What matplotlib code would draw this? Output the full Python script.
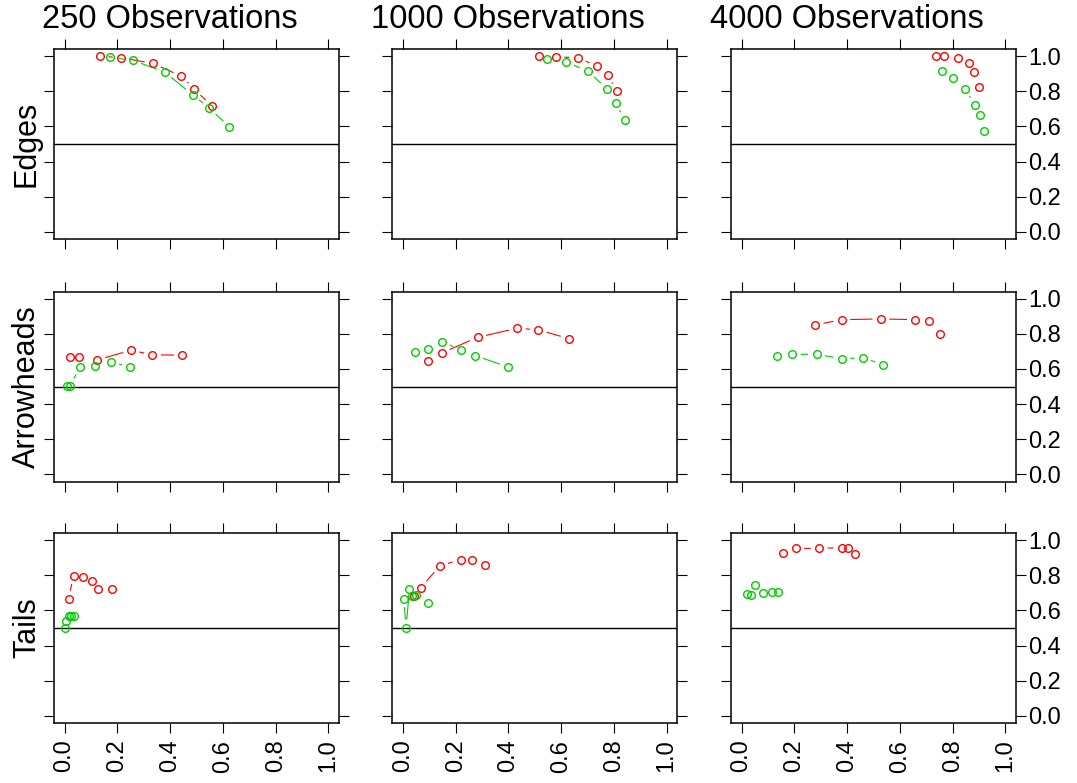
import matplotlib
matplotlib.use('Agg')

import numpy as np
from matplotlib import pyplot as plt

plt.rcParams['font.family'] = ['Liberation Sans', 'DejaVu Sans']

obs_labels = ['250 Observations', '1000 Observations', '4000 Observations']
row_labels = ['Edges', 'Arrowheads', 'Tails']
ticks = [0.0, 0.2, 0.4, 0.6, 0.8, 1.0]
tick_labels = ['0.0', '0.2', '0.4', '0.6', '0.8', '1.0']
ref_level = 0.5

# red series, one list per sample size (250, 1000, 4000)
edges_red_x = [[0.135, 0.214, 0.335, 0.442, 0.492, 0.558],
               [0.517, 0.580, 0.663, 0.736, 0.777, 0.811],
               [0.735, 0.769, 0.821, 0.862, 0.880, 0.899]]
edges_red_y = [[1.000, 0.990, 0.958, 0.886, 0.811, 0.716],
               [1.000, 0.996, 0.990, 0.943, 0.892, 0.801],
               [0.998, 0.998, 0.990, 0.958, 0.911, 0.826]]
edges_green_x = [[0.173, 0.260, 0.380, 0.485, 0.549, 0.625],
                 [0.548, 0.618, 0.700, 0.774, 0.806, 0.840],
                 [0.761, 0.802, 0.847, 0.884, 0.904, 0.917]]
edges_green_y = [[0.994, 0.975, 0.909, 0.780, 0.703, 0.597],
                 [0.981, 0.966, 0.915, 0.813, 0.735, 0.638],
                 [0.917, 0.877, 0.814, 0.723, 0.663, 0.576]]

arrow_red_x = [[0.020, 0.056, 0.123, 0.252, 0.333, 0.446],
               [0.095, 0.148, 0.284, 0.433, 0.514, 0.629],
               [0.279, 0.380, 0.528, 0.659, 0.712, 0.753]]
arrow_red_y = [[0.670, 0.670, 0.651, 0.706, 0.680, 0.678],
               [0.647, 0.691, 0.780, 0.831, 0.822, 0.772],
               [0.850, 0.880, 0.884, 0.880, 0.873, 0.799]]
arrow_green_x = [[0.011, 0.022, 0.057, 0.114, 0.176, 0.249],
                 [0.046, 0.094, 0.149, 0.220, 0.274, 0.398],
                 [0.133, 0.192, 0.284, 0.380, 0.460, 0.537]]
arrow_green_y = [[0.502, 0.502, 0.613, 0.615, 0.640, 0.611],
                 [0.698, 0.714, 0.755, 0.708, 0.676, 0.611],
                 [0.676, 0.682, 0.684, 0.657, 0.664, 0.624]]

tails_red_x = [[0.015, 0.034, 0.068, 0.104, 0.126, 0.181],
               [0.044, 0.069, 0.140, 0.219, 0.262, 0.312],
               [0.157, 0.205, 0.294, 0.381, 0.405, 0.428]]
tails_red_y = [[0.665, 0.797, 0.792, 0.767, 0.723, 0.720],
               [0.680, 0.730, 0.854, 0.888, 0.888, 0.858],
               [0.927, 0.952, 0.953, 0.957, 0.957, 0.918]]
tails_green_x = [[0.000, 0.005, 0.015, 0.025, 0.034],
                 [0.004, 0.012, 0.025, 0.034, 0.050, 0.094],
                 [0.019, 0.036, 0.052, 0.082, 0.115, 0.139]]
tails_green_y = [[0.498, 0.541, 0.566, 0.570, 0.566],
                 [0.666, 0.500, 0.722, 0.680, 0.690, 0.640],
                 [0.694, 0.690, 0.747, 0.700, 0.705, 0.707]]

RED = '#FF0000'
GREEN = '#00CD00'
W, H = 1077, 783


def gapped_line(ax, xs, ys, color, gap=9):
	# R type="b": line segments stop short of the points
	pts = ax.transData.transform(np.column_stack([xs, ys]))
	inv = ax.transData.inverted()
	for p, q in zip(pts[:-1], pts[1:]):
		d = q - p
		L = np.hypot(d[0], d[1])
		if L <= 2 * gap:
			continue
		u = d / L
		a = inv.transform(p + u * gap)
		b = inv.transform(q - u * gap)
		ax.plot([a[0], b[0]], [a[1], b[1]], color=color, lw=0.8)


fig = plt.figure(figsize=(W / 100, H / 100), dpi=100)

col_left = [54, 392.3, 731]
row_top = [49, 291.5, 533]
pw, ph = 285, 190
title_x = [170, 508, 847]

panels = [
	(edges_red_x, edges_red_y, edges_green_x, edges_green_y),
	(arrow_red_x, arrow_red_y, arrow_green_x, arrow_green_y),
	(tails_red_x, tails_red_y, tails_green_x, tails_green_y),
]

for r in range(3):
	rx, ry, gx, gy = panels[r]
	for c in range(3):
		ax = fig.add_axes([col_left[c] / W, 1 - (row_top[r] + ph) / H, pw / W, ph / H])
		ax.set_xlim(-0.04, 1.04)
		ax.set_ylim(-0.04, 1.04)
		ax.axhline(ref_level, color='black', lw=1.0)
		gapped_line(ax, rx[c], ry[c], RED)
		gapped_line(ax, gx[c], gy[c], GREEN)
		ax.plot(rx[c], ry[c], 'o', ms=5.5, mfc='none', mec=RED, mew=1.0)
		ax.plot(gx[c], gy[c], 'o', ms=5.5, mfc='none', mec=GREEN, mew=1.0)

		ax.set_xticks(ticks)
		ax.set_yticks(ticks)
		ax.set_xticklabels(tick_labels)
		ax.set_yticklabels(tick_labels)
		ax.tick_params(direction='out', length=7, width=0.8, top=True, right=True,
					   labelleft=False, labeltop=False,
					   labelright=(c == 2), labelbottom=(r == 2), labelsize=17)
		ax.tick_params(axis='x', labelrotation=90, pad=5)
		ax.tick_params(axis='y', pad=2)
		for s in ax.spines.values():
			s.set_linewidth(1.1)

for c in range(3):
	fig.text(title_x[c] / W, 1 - 19 / H, obs_labels[c], ha='center', va='center', fontsize=23.5)

for r in range(3):
	fig.text(27 / W, 1 - (row_top[r] + ph / 2) / H, row_labels[r], rotation=90,
			 ha='center', va='center', fontsize=22)

fig.savefig('out.png', dpi=100)
